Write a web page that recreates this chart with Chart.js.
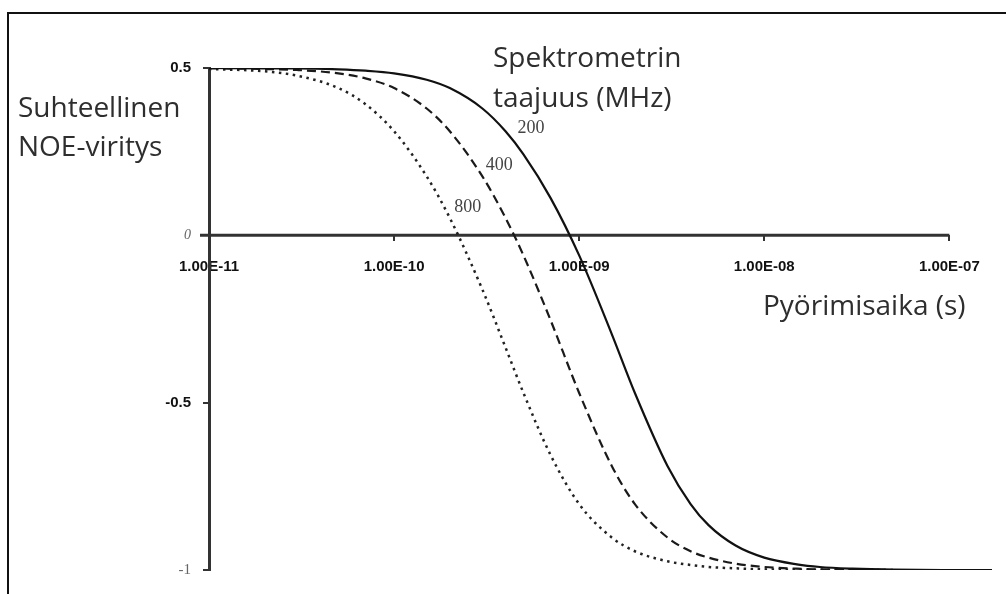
<!DOCTYPE html>
<html>
<head>
<meta charset="utf-8">
<script src="https://cdn.jsdelivr.net/npm/chart.js"></script>
<style>
  body { margin: 0; background: #ffffff; }
  #kaavio { display: block; }
</style>
</head>
<body>
<canvas id="kaavio" width="1006" height="594"></canvas>
<script>
// Pyörimisaika (s), yhteinen x-arvo kaikille käyrille
var pyorimisaika = [1e-11, 2e-11, 3e-11, 5e-11, 7e-11, 1e-10, 1.5e-10, 2e-10, 3e-10, 4e-10, 5e-10, 7e-10,
    1e-9, 1.5e-9, 2e-9, 3e-9, 4e-9, 5e-9, 7e-9, 1e-8, 1.5e-8, 2e-8, 3e-8, 5e-8, 1e-7, 1.7e-7];

// Suhteellinen NOE-viritys eri spektrometrin taajuuksilla (luettu kuvasta)
var noe200 = [0.500, 0.499, 0.499, 0.496, 0.492, 0.484, 0.465, 0.440, 0.379, 0.311, 0.242, 0.112,
    -0.060, -0.295, -0.471, -0.689, -0.803, -0.866, -0.927, -0.963, -0.983, -0.991, -0.996, -0.999, -1.000, -1.000];
var noe400 = [0.499, 0.497, 0.494, 0.484, 0.469, 0.440, 0.379, 0.311, 0.176, 0.052, -0.060, -0.253,
    -0.471, -0.689, -0.803, -0.903, -0.944, -0.963, -0.981, -0.991, -0.996, -0.998, -0.999, -1.000, null, null];
var noe800 = [0.497, 0.490, 0.477, 0.440, 0.392, 0.311, 0.176, 0.052, -0.162, -0.335, -0.471, -0.656,
    -0.803, -0.903, -0.944, -0.974, -0.985, -0.991, -0.995, -0.998, -0.999, -0.999, -1.000, -1.000, null, null];

// Akselien jakoviivat
var xJaot = [1e-11, 1e-10, 1e-9, 1e-8, 1e-7];
var yJaot = [-1, -0.5, 0, 0.5];

// Käyrien tunnisteet (taajuus MHz) ja niiden paikat
var kayraTekstit = ['200', '400', '800'];
var kayraTekstiX = [5.5e-10, 3.7e-10, 2.5e-10];
var kayraTekstiY = [0.32, 0.21, 0.085];

function pisteet(arvot) {
    return pyorimisaika.map(function (t, i) { return { x: t, y: arvot[i] }; });
}

function eksponentti(v) {
    var e = Math.round(Math.log10(v));
    return '1.00E' + (e < 0 ? '-' : '+') + String(Math.abs(e)).padStart(2, '0');
}

var koristeet = {
    id: 'koristeet',
    beforeDraw: function (chart) {
        var ctx = chart.ctx;
        ctx.save();
        ctx.fillStyle = '#ffffff';
        ctx.fillRect(0, 0, chart.width, chart.height);
        // kehys
        ctx.strokeStyle = '#111';
        ctx.lineWidth = 2;
        ctx.beginPath();
        ctx.moveTo(8, 594);
        ctx.lineTo(8, 13);
        ctx.lineTo(1006, 13);
        ctx.stroke();
        ctx.restore();
    },
    beforeDatasetsDraw: function (chart) {
        // x-akselin viiva y = 0 kohdalla, vain välillä 1e-11 ... 1e-7
        var ctx = chart.ctx, sx = chart.scales.x, sy = chart.scales.y;
        var y0 = sy.getPixelForValue(0);
        ctx.save();
        ctx.strokeStyle = '#333';
        ctx.lineWidth = 3;
        ctx.beginPath();
        ctx.moveTo(sx.getPixelForValue(xJaot[0]) - 9, y0);
        ctx.lineTo(sx.getPixelForValue(xJaot[xJaot.length - 1]), y0);
        ctx.stroke();
        ctx.restore();
    },
    afterDraw: function (chart) {
        var ctx = chart.ctx, sx = chart.scales.x, sy = chart.scales.y;
        ctx.save();
        ctx.fillStyle = '#2e2e2e';
        ctx.font = '28px "Open Sans"';
        ctx.textAlign = 'left';
        ctx.textBaseline = 'alphabetic';
        ctx.fillText('Suhteellinen', 18, 117);
        ctx.fillText('NOE-viritys', 18, 156);
        ctx.fillText('Spektrometrin', 493, 67);
        ctx.fillText('taajuus (MHz)', 493, 107);
        ctx.fillText('Pyörimisaika (s)', 763, 315);

        ctx.fillStyle = '#444';
        ctx.font = '18px "Liberation Serif"';
        ctx.textAlign = 'center';
        ctx.textBaseline = 'middle';
        for (var i = 0; i < kayraTekstit.length; i++) {
            ctx.fillText(kayraTekstit[i], sx.getPixelForValue(kayraTekstiX[i]), sy.getPixelForValue(kayraTekstiY[i]));
        }
        ctx.restore();
    }
};

var ctxKaavio = document.getElementById('kaavio').getContext('2d');
var kaavio = new Chart(ctxKaavio, {
    type: 'line',
    data: {
        datasets: [{
            label: '200',
            data: pisteet(noe200),
            borderColor: '#111',
            borderWidth: 2.2
        }, {
            label: '400',
            data: pisteet(noe400),
            borderColor: '#1a1a1a',
            borderWidth: 2.2,
            borderDash: [9, 5]
        }, {
            label: '800',
            data: pisteet(noe800),
            borderColor: '#222',
            borderWidth: 2.5,
            borderDash: [2.5, 4.5]
        }]
    },
    options: {
        responsive: false,
        animation: false,
        events: [],
        layout: { padding: { top: 68, right: 14, bottom: 24, left: 0 } },
        elements: {
            point: { radius: 0 },
            line: { cubicInterpolationMode: 'monotone', fill: false }
        },
        plugins: {
            legend: { display: false },
            tooltip: { enabled: false }
        },
        scales: {
            x: {
                type: 'logarithmic',
                min: 1e-11,
                max: 1.7e-7,
                position: { y: 0 },
                border: { display: false },
                grid: { drawOnChartArea: false, drawTicks: true, tickLength: 6, color: '#333', lineWidth: 2 },
                afterBuildTicks: function (scale) {
                    scale.ticks = xJaot.map(function (v) { return { value: v }; });
                },
                ticks: {
                    autoSkip: false,
                    maxRotation: 0,
                    padding: 17,
                    color: '#111',
                    font: { family: 'Liberation Sans', size: 15, weight: 'bold' },
                    callback: function (value) { return eksponentti(value); }
                }
            },
            y: {
                type: 'linear',
                min: -1,
                max: 0.5,
                border: { display: true, width: 3, color: '#333' },
                grid: { drawOnChartArea: false, drawTicks: true, tickLength: 6, color: '#333', lineWidth: 2 },
                afterBuildTicks: function (scale) {
                    scale.ticks = yJaot.map(function (v) { return { value: v }; });
                },
                afterFit: function (scale) { scale.width = 209; },
                ticks: {
                    padding: 12,
                    callback: function (value) { return String(value); },
                    color: function (c) {
                        return (c.tick && (c.tick.value === -1 || c.tick.value === 0)) ? '#666' : '#111';
                    },
                    font: function (c) {
                        var v = c.tick ? c.tick.value : null;
                        if (v === -1) { return { family: 'Liberation Serif', size: 15, weight: 'normal' }; }
                        if (v === 0) { return { family: 'Liberation Serif', size: 14, style: 'italic', weight: 'normal' }; }
                        return { family: 'Liberation Sans', size: 15, weight: 'bold' };
                    }
                }
            }
        }
    },
    plugins: [koristeet]
});
</script>
</body>
</html>
